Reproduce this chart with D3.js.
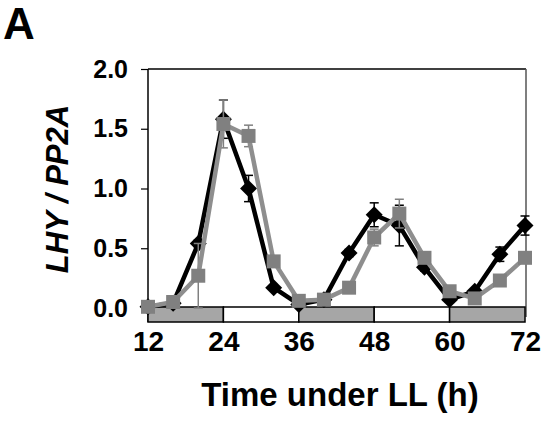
<html>
<head>
<meta charset="utf-8">
<style>
  body { margin: 0; background: #fff; }
  text { font-family: Arial, "Liberation Sans", sans-serif; font-weight: bold; }
</style>
<script src="https://cdn.jsdelivr.net/npm/d3@7"></script>
</head>
<body>
<div id="chart"></div>
<script>

// sampling times (h under LL)
var times = [12, 16, 20, 24, 28, 32, 36, 40, 44, 48, 52, 56, 60, 64, 68, 72];
// black diamonds
var lhyBlack = [0.01, 0.04, 0.54, 1.58, 1.00, 0.17, 0.03, 0.07, 0.46, 0.78, 0.69, 0.34, 0.07, 0.14, 0.45, 0.69];
var errBlack = [0, 0, 0.03, 0.16, 0.11, 0.02, 0, 0, 0.03, 0.10, 0.17, 0.03, 0.02, 0.02, 0.06, 0.08];
// grey squares
var lhyGrey = [0.01, 0.05, 0.27, 1.54, 1.44, 0.39, 0.06, 0.07, 0.17, 0.59, 0.79, 0.42, 0.14, 0.08, 0.23, 0.42];
var errGrey = [0, 0, 0.27, 0.20, 0.09, 0.02, 0, 0, 0.02, 0.07, 0.12, 0.03, 0.02, 0.01, 0.02, 0.02];

var xTicks = [12, 24, 36, 48, 60, 72];
var yTicks = [0, 0.5, 1.0, 1.5, 2.0];
// light bar under axis: subjective night (grey) / subjective day (white)
var phaseStart = [12, 24, 36, 48, 60];
var phaseEnd = [24, 36, 48, 60, 72];
var phase = ["night", "day", "night", "day", "night"];

var W = 542, H = 422;
var svg = d3.select("#chart").append("svg")
    .attr("width", W)
    .attr("height", H);

var x = d3.scaleLinear().domain([12, 72]).range([148, 525]);
var y = d3.scaleLinear().domain([0, 2]).range([308, 69]);

// panel letter
svg.append("text")
    .attr("x", 3)
    .attr("y", 39)
    .attr("font-size", "44px")
    .text("A");

// frame: top and right
svg.append("line")
    .attr("x1", x(12)).attr("x2", x(72) + 1)
    .attr("y1", y(2)).attr("y2", y(2))
    .attr("stroke", "#000").attr("stroke-width", 1.5);
svg.append("line")
    .attr("x1", x(72) + 1).attr("x2", x(72) + 1)
    .attr("y1", y(2)).attr("y2", 317)
    .attr("stroke", "#555").attr("stroke-width", 1.5);

// y axis
var yAxis = d3.axisLeft(y)
    .tickValues(yTicks)
    .tickSize(7)
    .tickFormat(d3.format(".1f"));
var gy = svg.append("g")
    .attr("transform", "translate(" + x(12) + ",0)")
    .call(yAxis);
gy.select(".domain").remove();
gy.selectAll(".tick line").attr("stroke", "#000").attr("stroke-width", 1.2);
gy.selectAll(".tick text")
    .attr("x", -20)
    .attr("font-size", "25px")
    .attr("font-family", "Arial, 'Liberation Sans', sans-serif")
    .attr("font-weight", "bold")
    .attr("fill", "#000");

svg.append("line")
    .attr("x1", x(12)).attr("x2", x(12))
    .attr("y1", y(2)).attr("y2", 322)
    .attr("stroke", "#000").attr("stroke-width", 1.5);

// light regime bar
svg.append("g").selectAll("rect")
    .data(phase)
    .enter()
    .append("rect")
    .attr("x", function (d, i) { return x(phaseStart[i]); })
    .attr("width", function (d, i) { return x(phaseEnd[i]) - x(phaseStart[i]); })
    .attr("y", 307)
    .attr("height", 15)
    .attr("fill", function (d) { return d === "night" ? "#a6a6a6" : "#fff"; })
    .attr("stroke", "#000")
    .attr("stroke-width", 1.5);

// x tick labels
var xAxis = d3.axisBottom(x)
    .tickValues(xTicks)
    .tickSize(0)
    .tickFormat(d3.format("d"));
var gx = svg.append("g")
    .attr("transform", "translate(0,331)")
    .call(xAxis);
gx.select(".domain").remove();
gx.selectAll(".tick text")
    .attr("y", 0)
    .attr("dy", "0.72em")
    .attr("font-size", "28px")
    .attr("font-family", "Arial, 'Liberation Sans', sans-serif")
    .attr("font-weight", "bold")
    .attr("fill", "#000");

// axis titles
svg.append("text")
    .attr("x", 340)
    .attr("y", 406)
    .attr("text-anchor", "middle")
    .attr("font-size", "33px")
    .text("Time under LL (h)");

svg.append("text")
    .attr("transform", "translate(68,189) rotate(-90)")
    .attr("text-anchor", "middle")
    .attr("font-size", "31px")
    .attr("font-style", "italic")
    .text("LHY / PP2A");

function drawSeries(vals, errs, color, lineColor, shape) {
    var pts = times.map(function (t, i) { return {t: t, v: vals[i], e: errs[i]}; });
    var g = svg.append("g");

    var eb = g.selectAll(".err").data(pts.filter(function (d) { return d.e > 0; }))
        .enter().append("g");
    eb.append("line")
        .attr("x1", function (d) { return x(d.t); })
        .attr("x2", function (d) { return x(d.t); })
        .attr("y1", function (d) { return y(Math.max(0, d.v - d.e)); })
        .attr("y2", function (d) { return y(d.v + d.e); })
        .attr("stroke", color).attr("stroke-width", 1.5);
    [1, -1].forEach(function (s) {
        eb.append("line")
            .attr("x1", function (d) { return x(d.t) - 4.5; })
            .attr("x2", function (d) { return x(d.t) + 4.5; })
            .attr("y1", function (d) { return y(Math.max(0, d.v + s * d.e)); })
            .attr("y2", function (d) { return y(Math.max(0, d.v + s * d.e)); })
            .attr("stroke", color).attr("stroke-width", 1.5);
    });

    var line = d3.line()
        .x(function (d) { return x(d.t); })
        .y(function (d) { return y(d.v); });
    g.append("path")
        .datum(pts)
        .attr("d", line)
        .attr("fill", "none")
        .attr("stroke", lineColor)
        .attr("stroke-width", 4.5)
        .attr("stroke-linejoin", "round");

    var sym = d3.symbol()
        .type(d3.symbolSquare)
        .size(shape === "diamond" ? 144 : 196);
    g.selectAll(".pt").data(pts)
        .enter().append("path")
        .attr("d", sym)
        .attr("transform", function (d) {
            return "translate(" + x(d.t) + "," + y(d.v) + ")" + (shape === "diamond" ? " rotate(45)" : "");
        })
        .attr("fill", color);
}

drawSeries(lhyBlack, errBlack, "#000", "#000", "diamond");
drawSeries(lhyGrey, errGrey, "#808080", "#8e8e8e", "square");

</script>
</body>
</html>
